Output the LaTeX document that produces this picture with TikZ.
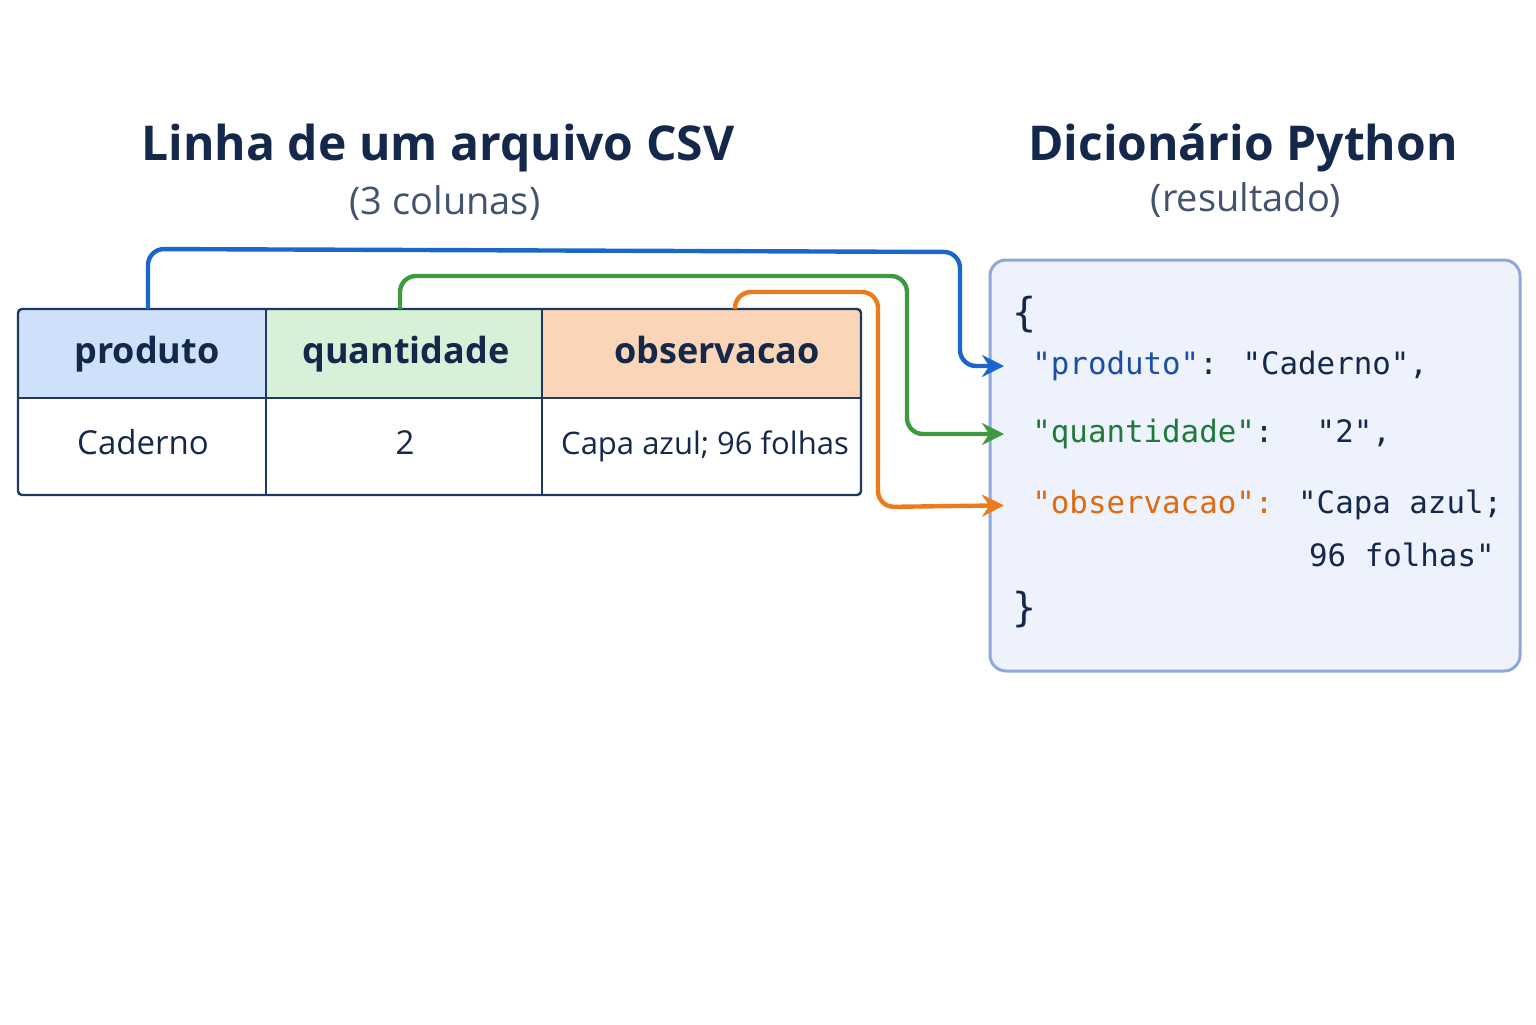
\documentclass[tikz,border=0pt]{standalone}
\usepackage{fontspec}
\setmainfont{Open Sans}
\newfontfamily\codefont{DejaVu Sans Mono}
\usetikzlibrary{arrows.meta}
\definecolor{navy}{HTML}{14284B}
\definecolor{bord}{HTML}{1F3A5F}
\definecolor{hb}{HTML}{CFE0FA}
\definecolor{hg}{HTML}{D8F0D8}
\definecolor{ho}{HTML}{FBD5B8}
\definecolor{cb}{HTML}{1A66CC}
\definecolor{cg}{HTML}{3E9A3E}
\definecolor{co}{HTML}{EE7A1C}
\definecolor{kb}{HTML}{1A4FA8}
\definecolor{kg}{HTML}{1E7A3A}
\definecolor{ko}{HTML}{E06A10}
\definecolor{dictfill}{HTML}{EEF2FC}
\definecolor{dictbord}{HTML}{8FA8DC}
\begin{document}
\begin{tikzpicture}[x=0.5pt,y=-0.5pt,
 hdr/.style={font=\fontsize{18}{22}\selectfont\bfseries,text=navy,text height=13pt,text depth=4pt},
 val/.style={font=\fontsize{16.5}{20}\selectfont,text=navy,text height=12pt,text depth=4pt},
 code/.style={font=\codefont\fontsize{15.4}{20}\selectfont,text=navy,anchor=west,inner sep=0pt},
 conn/.style={line width=2.2pt,rounded corners=8pt,shorten >=14pt,-{Stealth[length=11pt,width=11pt]}}]
\useasboundingbox[fill=white] (0,0) rectangle (1536,1024);
% titles
\node[font=\fontsize{24}{30}\selectfont\bfseries,text=navy] (t1) at (438,148) {Linha de um arquivo CSV};
\node[font=\fontsize{19}{24}\selectfont,text=navy!80] (s1) at (445,203) {(3 colunas)};
\node[font=\fontsize{24}{30}\selectfont\bfseries,text=navy] (t2) at (1243,148) {Dicionário Python};
\node[font=\fontsize{19}{24}\selectfont,text=navy!80] (s2) at (1246,200) {(resultado)};
% table
\fill[hb] (18,309) rectangle (266,398);
\fill[hg] (266,309) rectangle (542,398);
\fill[ho] (542,309) rectangle (861,398);
\draw[bord,line width=1.2pt,rounded corners=2pt] (18,309) rectangle (861,495);
\draw[bord,line width=1.2pt] (18,398) -- (861,398) (266,309) -- (266,495) (542,309) -- (542,495);
\node[hdr] (h1) at (147,354) {produto};
\node[hdr] (h2) at (406,354) {quantidade};
\node[hdr] (h3) at (717,354) {observacao};
\node[val] (v1) at (143,446) {Caderno};
\node[val] (v2) at (405,446) {2};
\node[val,font=\fontsize{15.5}{20}\selectfont] (v3) at (705,446) {Capa azul; 96 folhas};
\coordinate (p1) at (148,309);
\coordinate (p2) at (400,309);
\coordinate (p3) at (735,309);
% dict
\draw[dictbord,fill=dictfill,line width=1.5pt,rounded corners=8pt] (990,260) rectangle (1520,671);
\node[code] (ob) at (1012,315) {\fontsize{20}{20}\selectfont\{};
\node[code] (k1) at (1032,366) {\textcolor{kb}{"produto"}: "Caderno",};
\node[code] (k2) at (1032,434) {\textcolor{kg}{"quantidade"}: \ "2",};
\node[code] (k3) at (1032,505) {\textcolor{ko}{"observacao":} "Capa azul;};
\node[code,anchor=east] (k4) at (1495,555) {96 folhas"};
\node[code] (cb2) at (1012,610) {\fontsize{20}{20}\selectfont\}};
% connectors
\draw[conn,cb] (p1) -- (148,249) -- (960,252) -- (960,366) -- (k1.west);
\draw[conn,cg] (p2) -- (400,276) -- (907,276) -- (907,434) -- (k2.west);
\draw[conn,co] (p3) -- (735,292) -- (878,292) -- (878,507) -- (k3.west);
\end{tikzpicture}
\end{document}
